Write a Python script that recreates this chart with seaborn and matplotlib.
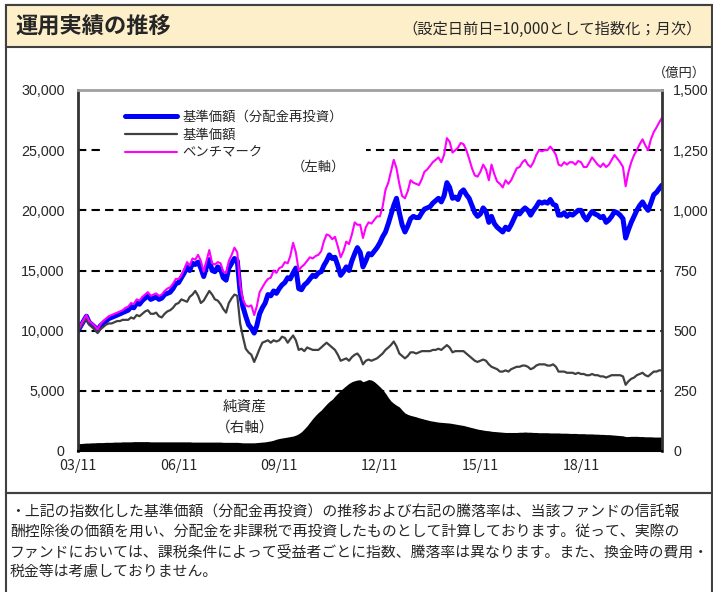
import numpy as np
import pandas as pd
import seaborn as sns
import matplotlib.pyplot as plt
import matplotlib.dates as mdates
from matplotlib.patches import Rectangle
from matplotlib.ticker import StrMethodFormatter

# monthly index values (thousands), 2003/11 - 2021/04
reinvested_k = [
    10.0, 10.4, 10.8, 11.2, 10.7, 10.5, 10.3, 10.0, 10.4, 10.6, 10.8, 11.0,
    11.1, 11.2, 11.3, 11.4, 11.5, 11.6, 11.7, 12.0, 11.9, 12.3, 12.2, 12.5,
    12.7, 12.9, 12.6, 12.7, 12.8, 12.6, 12.7, 13.0, 13.1, 13.2, 13.5, 13.9,
    14.0, 14.4, 14.8, 15.3, 15.0, 15.6, 15.5, 15.7, 15.2, 14.5, 15.3, 15.9,
    15.0, 14.9, 15.3, 15.1, 14.4, 14.2, 15.2, 15.6, 16.0, 15.8, 13.2, 12.0,
    11.2, 10.5, 10.2, 9.8, 10.4, 11.4, 11.9, 12.3, 13.0, 12.9, 13.3, 13.1,
    13.5, 13.8, 14.0, 14.4, 14.3, 14.8, 15.2, 13.5, 13.4, 13.8, 14.0, 14.3,
    14.6, 14.5, 14.8, 14.9, 15.4, 15.8, 16.3, 16.0, 16.1, 15.4, 14.6, 14.9,
    15.3, 15.0, 15.8, 16.4, 16.9, 16.5, 15.3, 15.8, 16.4, 16.3, 16.6, 16.9,
    17.3, 17.8, 18.2, 18.9, 19.6, 20.4, 21.0, 19.8, 18.8, 18.2, 18.7, 19.3,
    19.5, 19.4, 19.4, 19.8, 20.1, 20.2, 20.3, 20.6, 20.8, 21.0, 20.7, 21.2,
    22.3, 21.9, 21.0, 21.1, 20.9, 21.5, 21.7, 21.3, 21.0, 20.4, 19.8, 19.5,
    19.7, 20.2, 19.9, 19.0, 19.5, 18.9, 18.6, 18.4, 18.2, 18.6, 18.4, 18.8,
    19.3, 19.8, 19.7, 20.0, 20.2, 20.0, 19.6, 20.0, 20.3, 20.7, 20.6, 20.7,
    20.6, 20.9, 20.5, 20.4, 19.6, 19.6, 19.8, 19.5, 19.7, 19.6, 19.8, 20.0,
    20.0, 19.5, 19.2, 19.6, 19.9, 19.7, 19.6, 19.4, 19.5, 19.0, 19.2, 19.5,
    19.9, 19.8, 19.6, 19.3, 17.7, 18.4, 19.0, 19.5, 20.0, 20.4, 20.7, 20.3,
    20.0, 20.6, 21.3, 21.5, 21.8, 22.1,
]
nav_k = [
    10.0, 10.3, 10.7, 11.0, 10.5, 10.3, 10.1, 9.8, 10.1, 10.3, 10.5, 10.6,
    10.6, 10.7, 10.8, 10.8, 10.9, 10.9, 10.9, 11.1, 11.0, 11.3, 11.2, 11.4,
    11.6, 11.7, 11.4, 11.4, 11.5, 11.2, 11.1, 11.4, 11.6, 11.7, 11.9, 12.2,
    12.3, 12.6, 12.5, 12.4, 12.8, 13.0, 13.3, 12.9, 12.3, 12.5, 12.9, 13.3,
    13.0, 12.6, 12.5, 12.2, 11.8, 11.5, 12.3, 12.7, 13.0, 12.9, 10.6, 9.5,
    8.5, 8.2, 8.0, 7.4, 7.9, 8.5, 9.0, 9.1, 9.2, 9.0, 9.2, 9.1,
    9.2, 9.5, 9.4, 9.0, 9.3, 9.6, 9.2, 8.4, 8.5, 8.3, 8.6, 8.5,
    8.4, 8.4, 8.4, 8.6, 8.8, 9.0, 8.8, 8.6, 8.4, 8.0, 7.5, 7.6,
    7.7, 7.5, 7.8, 8.0, 8.1, 7.8, 7.2, 7.5, 7.6, 7.5, 7.6, 7.7,
    7.9, 8.1, 8.4, 8.6, 8.8, 9.1, 8.7, 8.1, 7.9, 7.7, 7.9, 8.2,
    8.2, 8.1, 8.2, 8.3, 8.3, 8.3, 8.3, 8.4, 8.4, 8.5, 8.4, 8.6,
    8.8, 8.6, 8.2, 8.3, 8.3, 8.3, 8.3, 8.1, 7.9, 7.7, 7.5, 7.4,
    7.5, 7.6, 7.5, 7.2, 7.0, 6.9, 6.8, 6.6, 6.6, 6.7, 6.6, 6.8,
    6.9, 7.0, 7.0, 7.1, 7.1, 7.0, 6.8, 6.9, 7.1, 7.2, 7.2, 7.2,
    7.1, 7.1, 7.2, 7.0, 6.6, 6.6, 6.6, 6.5, 6.5, 6.5, 6.4, 6.5,
    6.4, 6.4, 6.3, 6.3, 6.4, 6.3, 6.3, 6.2, 6.2, 6.1, 6.2, 6.3,
    6.3, 6.3, 6.3, 6.2, 5.5, 5.8, 6.0, 6.1, 6.3, 6.4, 6.5, 6.3,
    6.2, 6.4, 6.6, 6.6, 6.7, 6.7,
]
benchmark_k = [
    10.0, 10.5, 10.9, 11.3, 10.8, 10.6, 10.4, 10.1, 10.5, 10.8, 11.0, 11.2,
    11.3, 11.4, 11.5, 11.6, 11.7, 11.9, 12.0, 12.3, 12.2, 12.6, 12.5, 12.8,
    13.0, 13.2, 12.9, 13.0, 13.1, 12.9, 13.0, 13.3, 13.5, 13.6, 13.9, 14.3,
    14.3, 14.6, 15.1, 15.7, 15.4, 16.0, 15.9, 16.3, 15.8, 14.9, 15.8, 16.7,
    15.6, 15.5, 15.7, 15.6, 14.9, 14.8, 15.8, 16.3, 16.9, 16.5, 13.8, 12.6,
    12.1, 12.0, 12.1, 11.3, 12.0, 13.2, 13.6, 14.0, 14.3, 14.4, 15.0, 14.8,
    15.2, 15.3, 15.7, 15.6, 16.2, 17.3, 16.5, 15.0, 15.3, 15.5, 15.8, 16.1,
    16.0, 16.2, 16.3, 16.6, 17.4, 18.0, 17.9, 17.6, 17.8, 17.0, 16.1, 16.6,
    17.4, 17.2, 18.0, 19.0, 18.8, 18.8, 17.7, 18.6, 19.0, 18.9, 19.2, 19.5,
    19.5, 20.3, 21.7, 22.3, 23.2, 24.2, 23.5, 22.2, 21.2, 21.0, 21.6, 22.5,
    22.3, 22.2, 22.1, 22.6, 23.2, 23.4, 23.7, 24.0, 24.2, 24.4, 24.0, 24.6,
    26.0, 25.7, 24.8, 25.0, 25.2, 25.6, 25.5, 25.0, 24.3, 23.5, 22.9, 22.8,
    23.2, 23.8, 23.4, 22.5, 23.8, 23.0, 22.4, 22.2, 21.9, 22.5, 22.2, 22.5,
    23.0, 23.5, 23.6, 24.0, 24.2, 23.8, 23.6, 24.0, 24.6, 25.0, 24.9, 25.0,
    25.0, 25.3, 25.0, 24.6, 23.8, 23.7, 24.0, 23.8, 24.0, 24.0, 23.8, 24.1,
    24.0, 23.6, 23.6, 24.0, 24.4, 24.1, 23.8, 23.6, 23.9, 23.6, 23.8, 24.2,
    24.6, 24.3, 24.0, 23.6, 22.0, 23.2, 24.0, 24.6, 25.0, 25.5, 25.9, 25.4,
    25.0, 25.9, 26.5, 26.9, 27.3, 27.7,
]
# net assets, 億円 (right axis)
net_assets = [
    30, 31, 32, 33, 33, 34, 34, 35, 35, 35, 36, 36,
    36, 37, 37, 37, 38, 38, 38, 38, 39, 39, 39, 39,
    39, 39, 38, 38, 38, 38, 38, 38, 38, 38, 38, 38,
    38, 38, 38, 38, 38, 37, 37, 37, 37, 37, 37, 37,
    37, 37, 37, 37, 36, 36, 36, 36, 36, 36, 35, 34,
    34, 34, 34, 34, 35, 36, 37, 38, 40, 42, 45, 49,
    52, 54, 56, 58, 60, 62, 66, 72, 80, 92, 105, 120,
    135, 148, 160, 170, 182, 195, 206, 215, 228, 240, 252, 262,
    272, 281, 288, 292, 295, 296, 288, 292, 297, 295, 288, 278,
    267, 255, 240, 222, 208, 198, 190, 183, 170, 158, 152, 148,
    145, 142, 138, 135, 132, 129, 126, 124, 122, 120, 119, 118,
    117, 116, 114, 112, 110, 108, 106, 103, 100, 97, 94, 91,
    89, 87, 85, 84, 82, 81, 80, 79, 78, 77, 77, 77,
    77, 77, 78, 78, 79, 78, 78, 77, 77, 76, 76, 76,
    76, 75, 75, 75, 75, 74, 74, 74, 73, 73, 73, 72,
    72, 72, 71, 71, 71, 70, 70, 69, 69, 68, 68, 67,
    66, 65, 64, 63, 60, 60, 61, 61, 61, 60, 60, 59,
    59, 59, 58, 58, 58, 58,
]

left_ticks = [0, 5000, 10000, 15000, 20000, 25000, 30000]
right_ticks = [0, 250, 500, 750, 1000, 1250, 1500]
grid_levels = [5000, 10000, 15000, 20000, 25000]
legend_labels = ["基準価額（分配金再投資）", "基準価額", "ベンチマーク"]
note_lines = [
    "・上記の指数化した基準価額（分配金再投資）の推移および右記の騰落率は、当該ファンドの信託報",
    "酬控除後の価額を用い、分配金を非課税で再投資したものとして計算しております。従って、実際の",
    "ファンドにおいては、課税条件によって受益者ごとに指数、騰落率は異なります。また、換金時の費用・",
    "税金等は考慮しておりません。",
]

W, H = 713, 592


def fx(px):
    return px / W


def fy(py):
    return 1 - py / H


dates = pd.date_range("2003-11-01", periods=len(reinvested_k), freq="MS")
df = pd.DataFrame({
    "date": dates,
    "reinvested": np.array(reinvested_k) * 1000,
    "nav": np.array(nav_k) * 1000,
    "benchmark": np.array(benchmark_k) * 1000,
    "net_assets": net_assets,
})

sns.set_style("white")
plt.rcParams["font.family"] = ["Liberation Sans", "Noto Sans CJK JP"]
jp = ["Noto Sans CJK JP", "DejaVu Sans"]

fig = plt.figure(figsize=(W / 100, H / 100), dpi=100)

# panel frames
fig.patches.append(Rectangle((fx(6), fy(493)), fx(712) - fx(6), fy(5) - fy(493),
                             transform=fig.transFigure, fill=False, ec="#404040", lw=1.5))
fig.patches.append(Rectangle((fx(6), fy(47)), fx(712) - fx(6), fy(5) - fy(47),
                             transform=fig.transFigure, fc="#FDEFC9", ec="#404040", lw=1.5))
fig.patches.append(Rectangle((fx(6), fy(600)), fx(712) - fx(6), fy(493) - fy(600),
                             transform=fig.transFigure, fill=False, ec="#404040", lw=1.5))

fig.text(fx(15), fy(27), "運用実績の推移", fontsize=16, fontweight="bold", family=jp, va="center")
fig.text(fx(702), fy(29), "（設定日前日=10,000として指数化；月次）", fontsize=11, family=jp,
         ha="right", va="center")
fig.text(fx(706), fy(73), "（億円）", fontsize=9.5, family=jp, ha="right", va="center")

for i, line in enumerate(note_lines):
    fig.text(fx(10), fy(512 + 19.8 * i), line, fontsize=10.7, family=jp, va="center")

ax = fig.add_axes([fx(78), fy(451), fx(662) - fx(78), fy(90) - fy(451)])
ax2 = ax.twinx()
ax.set_zorder(2)
ax2.set_zorder(1)
ax.patch.set_visible(False)

# net assets area (right axis)
ax2.fill_between(df["date"], df["net_assets"], color="black", lw=0)
ax2.set_ylim(0, 1500)
ax2.set_yticks(right_ticks)
ax2.yaxis.set_major_formatter(StrMethodFormatter("{x:,.0f}"))
ax2.tick_params(axis="y", length=0, pad=8, labelsize=10.3)
for s in ax2.spines.values():
    s.set_visible(False)

# index lines (left axis)
for level in grid_levels:
    ax.axhline(level, color="black", lw=1.5, dashes=(4, 2.5), zorder=0.5)
ax.add_patch(Rectangle((0.038, 0.773), 0.455, 0.2, transform=ax.transAxes,
                       fc="white", ec="none", zorder=1))

sns.lineplot(data=df, x="date", y="reinvested", ax=ax, color="#0000FF", lw=3.6,
             label=legend_labels[0])
sns.lineplot(data=df, x="date", y="nav", ax=ax, color="#404040", lw=1.6,
             label=legend_labels[1])
sns.lineplot(data=df, x="date", y="benchmark", ax=ax, color="#FF00FF", lw=1.5,
             label=legend_labels[2])

ax.set_xlim(df["date"].iloc[0], df["date"].iloc[-1])
ax.set_ylim(0, 30000)
ax.set_yticks(left_ticks)
ax.yaxis.set_major_formatter(StrMethodFormatter("{x:,.0f}"))
ax.set_xticks(df["date"].iloc[::36])
ax.xaxis.set_major_formatter(mdates.DateFormatter("%y/%m"))
ax.tick_params(axis="y", length=0, pad=9.5, labelsize=10.3)
ax.tick_params(axis="x", length=0, pad=5.5, labelsize=10.3, labelfontfamily="Noto Sans CJK JP")
ax.set_xlabel("")
ax.set_ylabel("")

ax.spines["left"].set_color("#333333")
ax.spines["left"].set_linewidth(2)
ax.spines["right"].set_color("#333333")
ax.spines["right"].set_linewidth(2)
ax.spines["top"].set_color("#A0A0A0")
ax.spines["top"].set_linewidth(2)
ax.spines["bottom"].set_color("black")
ax.spines["bottom"].set_linewidth(1.5)

handles, labels = ax.get_legend_handles_labels()
ax.legend(handles, labels, loc="upper left", bbox_to_anchor=((125 - 78) / 584, 0.945),
          frameon=False, borderpad=0, borderaxespad=0, handlelength=3.9,
          handletextpad=0.4, labelspacing=0.3, prop={"family": jp, "size": 9.6})

ax.text(0.411, 0.787, "（左軸）", transform=ax.transAxes, family=jp, fontsize=9.6,
        ha="center", va="center", zorder=5)
ax.text(0.286, 0.122, "純資産", transform=ax.transAxes, family=jp, fontsize=10.5,
        ha="center", va="center", zorder=5)
ax.text(0.286, 0.066, "（右軸）", transform=ax.transAxes, family=jp, fontsize=10.5,
        ha="center", va="center", zorder=5)

fig.savefig("out.png", dpi=100)
